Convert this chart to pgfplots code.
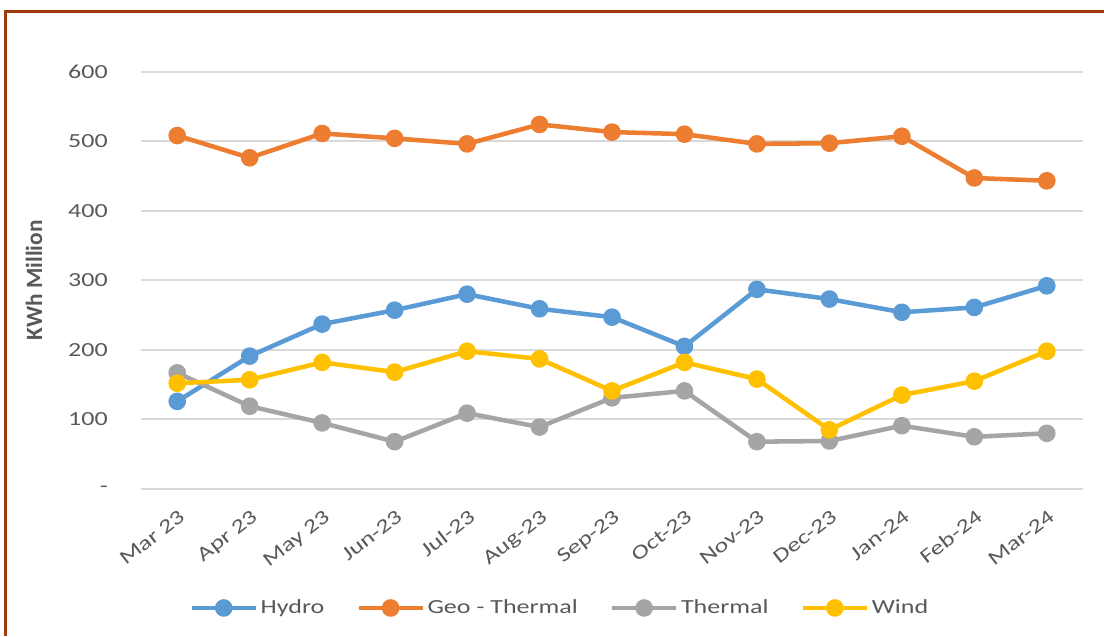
\documentclass[border=0pt]{standalone}
\usepackage{pgfplots}
\pgfplotsset{compat=1.18}
\usepackage{fontspec}
\setmainfont[FakeStretch=1.3]{Carlito}
\newfontfamily\plainfont{Carlito}

\definecolor{hydro}{HTML}{5B9BD5}
\definecolor{geo}{HTML}{ED7D31}
\definecolor{therm}{HTML}{A5A5A5}
\definecolor{wind}{HTML}{FFC000}
\definecolor{txt}{HTML}{595959}
\definecolor{gridc}{HTML}{D9D9D9}
\definecolor{frame}{RGB}{158,58,14}

\begin{document}
\begin{tikzpicture}
\useasboundingbox (0,0) rectangle (828pt,477pt);
\begin{axis}[
  at={(105.75pt,110.25pt)}, anchor=south west,
  scale only axis, width=706.5pt, height=313.1pt,
  xmin=-0.5, xmax=12.5, ymin=0, ymax=600,
  axis line style={draw=none},
  major tick length=0pt,
  ymajorgrids, grid style={gridc, line width=1.5pt},
  ytick={0,100,200,300,400,500,600},
  yticklabels={-,100,200,300,400,500,600},
  xtick={0,...,12},
  xticklabels={Mar 23,Apr 23,May 23,Jun-23,Jul-23,Aug-23,Sep-23,Oct-23,Nov-23,Dec-23,Jan-24,Feb-24,Mar-24},
  ticklabel style={font=\fontsize{15}{18}\selectfont, text=txt, inner sep=0pt},
  yticklabel style={anchor=east, xshift=-24.75pt},
  xticklabel style={xshift=0.5pt, yshift=-14.5pt, rotate=38, anchor=north east},
  ylabel={\plainfont\bfseries KWh Million},
  every axis y label/.style={at={(axis description cs:-0.1136,0.5)}, rotate=90, anchor=center,
    font=\fontsize{17.5}{20}\selectfont, text=txt},
  clip=false,
  every axis plot/.append style={line width=3.4pt, line join=round, mark=*, mark size=4.9pt,
    mark options={draw=none, xscale=1.3}},
  legend columns=4,
  legend style={at={(axis description cs:0.445,-0.285)}, anchor=center, draw=none,
    font=\fontsize{15}{18}\selectfont, text=txt,
    /tikz/every even column/.append style={column sep=22pt},
    cells={anchor=west}},
  legend image code/.code={\draw[mark repeat=2, mark phase=2] plot coordinates {(0pt,0pt) (24pt,0pt) (48pt,0pt)};},
]
\addplot[hydro, mark options={fill=hydro}] coordinates {
  (0,126) (1,191) (2,237) (3,257) (4,280) (5,259) (6,247) (7,205) (8,287) (9,273) (10,254) (11,261) (12,292)};
\addplot[geo, mark options={fill=geo}] coordinates {
  (0,508) (1,476) (2,511) (3,504) (4,496) (5,524) (6,513) (7,510) (8,496) (9,497) (10,507) (11,447) (12,443)};
\addplot[therm, mark options={fill=therm}] coordinates {
  (0,167) (1,119) (2,95) (3,68) (4,109) (5,89) (6,131) (7,141) (8,68) (9,69) (10,91) (11,75) (12,80)};
\addplot[wind, mark options={fill=wind}] coordinates {
  (0,152) (1,157) (2,182) (3,168) (4,198) (5,187) (6,141) (7,182) (8,158) (9,85) (10,135) (11,155) (12,198)};
\legend{Hydro, Geo - Thermal, Thermal, Wind}
\end{axis}
\draw[frame, line width=2.25pt] (3.75pt,0) -- (3.75pt,468pt) -- (828pt,468pt);
\end{tikzpicture}
\end{document}
